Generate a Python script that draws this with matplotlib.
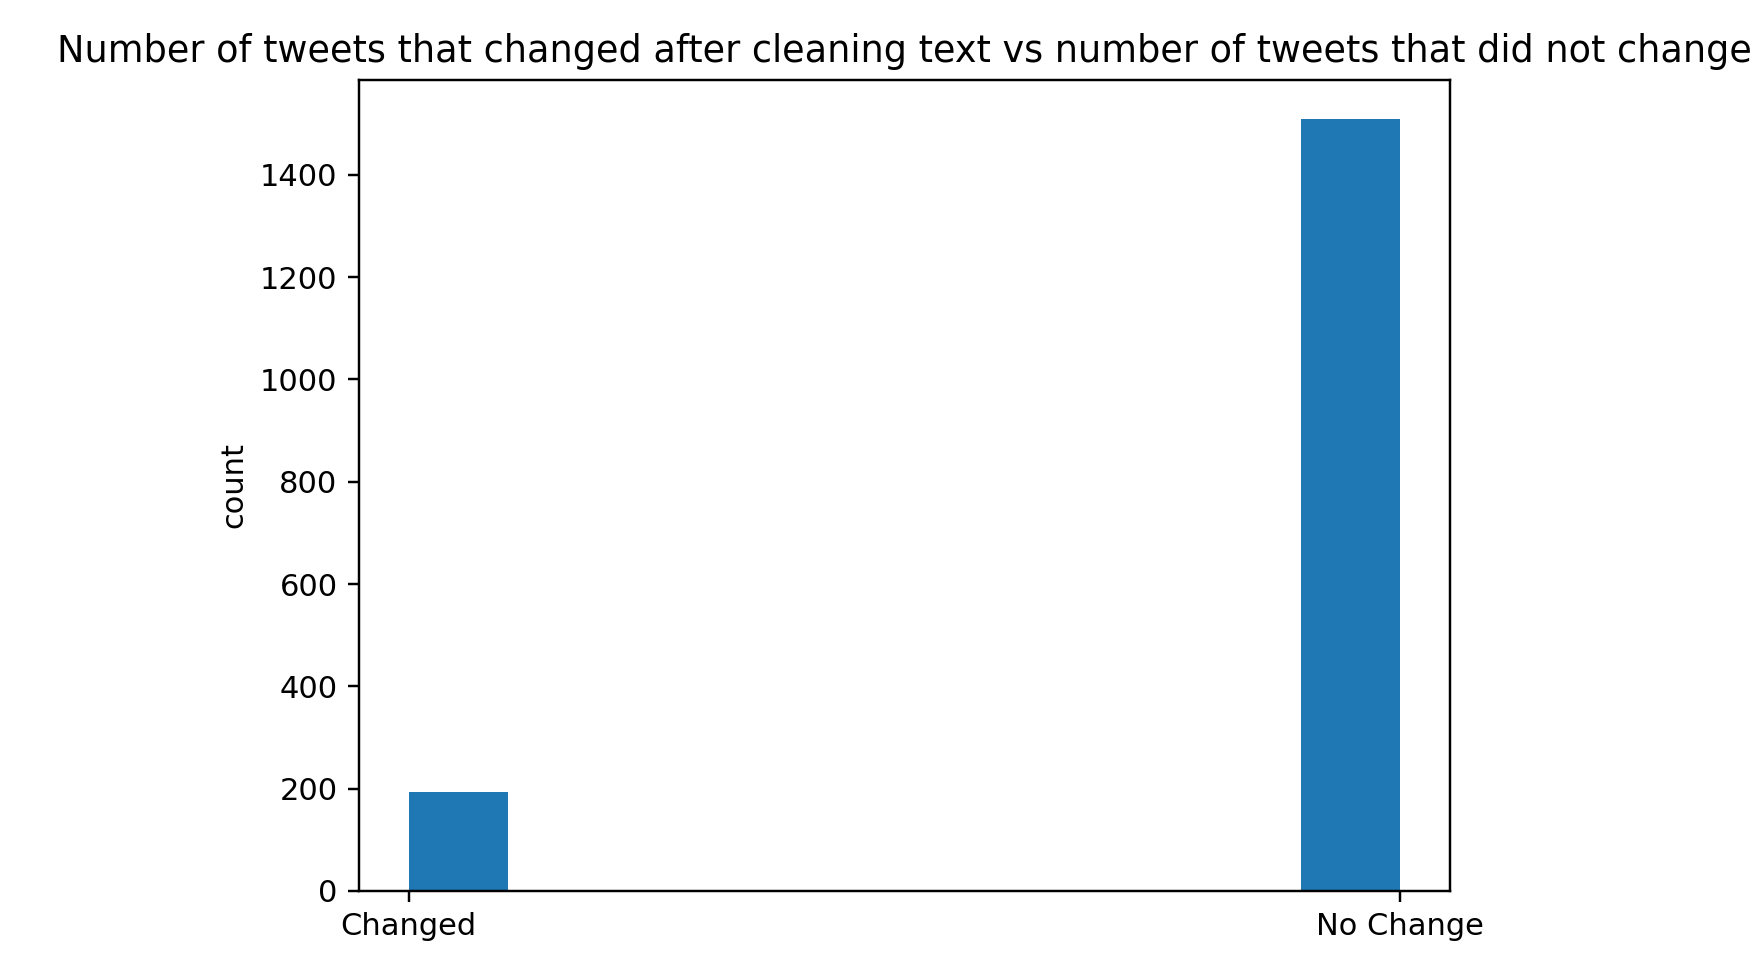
import matplotlib
matplotlib.use("Agg")
import matplotlib.pyplot as plt

# ------------- DATA -----------------
categories = ["Changed", "No Change"]
counts = [193, 1510]
TITLE = "Number of tweets that changed after cleaning text vs number of tweets that did not change"
# ------------------------------------

DPI = 220
W, H = 1760, 966
fig = plt.figure(figsize=(W / DPI, H / DPI), dpi=DPI)
ax = fig.add_axes([359 / W, (H - 891) / H, 1091 / W, 811 / H])

ax.hist(categories, weights=counts, bins=10, color="#1f77b4")
ax.set_ylabel("count")
ax.set_title(TITLE)

fig.savefig("out.png", dpi=DPI)
plt.close(fig)
